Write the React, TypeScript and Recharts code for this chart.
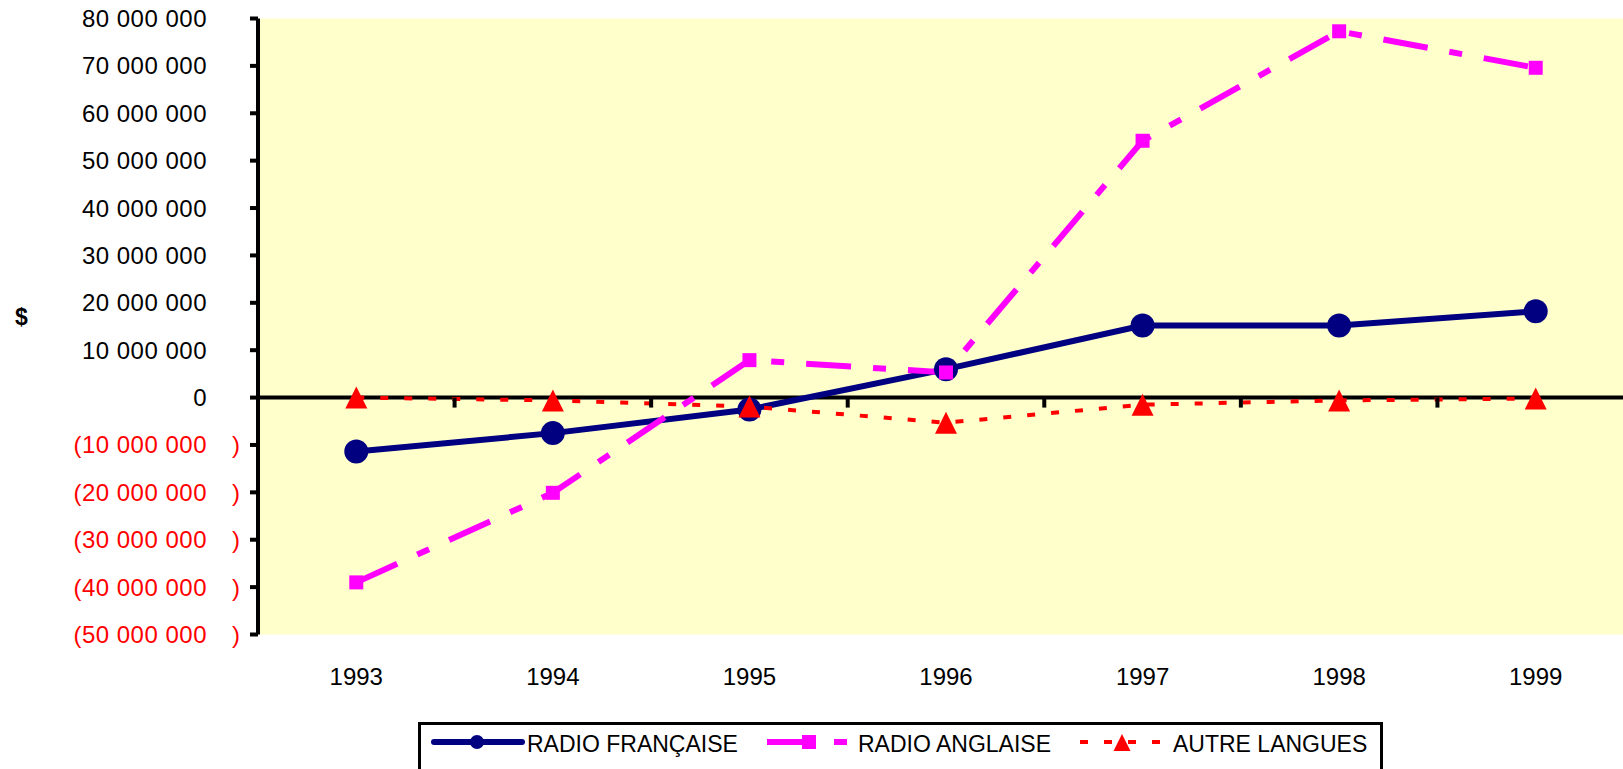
import React from 'react';
import {
  ComposedChart,
  Line,
  Scatter,
  XAxis,
  YAxis,
  CartesianGrid,
  ReferenceLine,
  Legend,
} from 'recharts';

const years = [1993, 1994, 1995, 1996, 1997, 1998, 1999];
const radioFrancaise = [-11.4e6, -7.5e6, -2.5e6, 6.0e6, 15.2e6, 15.2e6, 18.2e6];
const radioAnglaise = [-39.0e6, -20.1e6, 7.9e6, 5.3e6, 54.2e6, 77.3e6, 69.6e6];
const autreLangues = [0, -0.6e6, -1.9e6, -5.3e6, -1.5e6, -0.6e6, -0.2e6];
const yTicks = [-50e6, -40e6, -30e6, -20e6, -10e6, 0, 10e6, 20e6, 30e6, 40e6, 50e6, 60e6, 70e6, 80e6];
const seriesNames = ['RADIO FRANÇAISE', 'RADIO ANGLAISE', 'AUTRE LANGUES'];
const yLabel = '$';

const NAVY = '#000080';
const MAGENTA = '#FF00FF';
const RED = '#FF0000';
const FONT = '"Liberation Sans", Arial, sans-serif';

const data = years.map((y, i) => ({
  year: y,
  fr: radioFrancaise[i],
  an: radioAnglaise[i],
  au: autreLangues[i],
}));

const boundaryData = years.slice(1).map((y) => ({ year: y - 0.5, zero: 0 }));

const fmt = (n: number) =>
  Math.abs(n)
    .toString()
    .replace(/\B(?=(\d{3})+(?!\d))/g, ' ');

const YTick = (props: any) => {
  const { x, y, payload } = props;
  const v = payload.value as number;
  const common = {
    dominantBaseline: 'central' as const,
    fontSize: 24,
    fontFamily: FONT,
    letterSpacing: 0.5,
  };
  if (v < 0) {
    return (
      <g>
        <text x={x - 43} y={y} textAnchor="end" fill={RED} {...common}>
          {'(' + fmt(v)}
        </text>
        <text x={x - 18} y={y} textAnchor="start" fill={RED} {...common}>
          )
        </text>
      </g>
    );
  }
  return (
    <text x={x - 43} y={y} textAnchor="end" fill="#000" {...common}>
      {fmt(v)}
    </text>
  );
};

const XTick = (props: any) => {
  const { x, y, payload } = props;
  return (
    <text x={x} y={y + 41.5} textAnchor="middle" dominantBaseline="central" fill="#000" fontSize={24} fontFamily={FONT}>
      {payload.value}
    </text>
  );
};

const CircleDot = (p: any) => (
  <circle key={`fr-${p.index}`} cx={p.cx} cy={p.cy} r={12} fill={NAVY} stroke="none" />
);
const SquareDot = (p: any) => (
  <rect key={`an-${p.index}`} x={p.cx - 7} y={p.cy - 7} width={14} height={14} fill={MAGENTA} stroke="none" />
);
const TriDot = (p: any) => (
  <polygon
    key={`au-${p.index}`}
    points={`${p.cx},${p.cy - 11} ${p.cx - 11},${p.cy + 11} ${p.cx + 11},${p.cy + 11}`}
    fill={RED}
    stroke="none"
  />
);

const BoundaryTick = (p: any) => (
  <line x1={p.cx} y1={p.cy} x2={p.cx} y2={p.cy + 10} stroke="#000" strokeWidth={4} />
);

const renderLegend = () => (
  <div
    style={{
      width: 965,
      height: 70,
      border: '3px solid #000',
      boxSizing: 'border-box',
      background: '#fff',
    }}
  >
    <svg width={959} height={64} style={{ display: 'block' }}>
      <line x1={13} y1={17} x2={101} y2={17} stroke={NAVY} strokeWidth={6} strokeLinecap="round" />
      <circle cx={56} cy={17} r={7} fill={NAVY} />
      <text x={106} y={19} dominantBaseline="central" fontSize={23} fontFamily={FONT} fill="#000">
        {seriesNames[0]}
      </text>
      <line x1={346} y1={17} x2={428} y2={17} stroke={MAGENTA} strokeWidth={6} strokeDasharray="45 22 13 22" />
      <rect x={381} y={10} width={14} height={14} fill={MAGENTA} />
      <text x={437} y={19} dominantBaseline="central" fontSize={23} fontFamily={FONT} fill="#000">
        {seriesNames[1]}
      </text>
      <line x1={659} y1={17} x2={741} y2={17} stroke={RED} strokeWidth={4} strokeDasharray="8 16" />
      <polygon points="701,9 692.5,26 709.5,26" fill={RED} />
      <text x={752} y={19} dominantBaseline="central" fontSize={23} fontFamily={FONT} fill="#000">
        {seriesNames[2]}
      </text>
    </svg>
  </div>
);

export default function App() {
  return (
    <div
      style={{
        position: 'absolute',
        left: 0,
        top: 0,
        width: 1623,
        height: 769,
        overflow: 'hidden',
        background: '#fff',
      }}
    >
      <ComposedChart
        width={1640}
        height={769}
        data={data}
        margin={{ top: 18.5, right: 6, left: 0, bottom: 74.5 }}
        style={{ fontFamily: FONT }}
      >
        <CartesianGrid fill="#FFFFCC" horizontal={false} vertical={false} stroke="none" />
        <XAxis
          dataKey="year"
          type="number"
          domain={[1992.5, 1999.5]}
          ticks={years}
          allowDataOverflow
          axisLine={false}
          tickLine={false}
          tickSize={0}
          tickMargin={0}
          height={60}
          tick={<XTick />}
          interval={0}
        />
        <YAxis
          type="number"
          domain={[-50e6, 80e6]}
          ticks={yTicks}
          allowDataOverflow
          width={258}
          interval={0}
          tickSize={8}
          tickMargin={0}
          axisLine={{ stroke: '#000', strokeWidth: 4 }}
          tickLine={{ stroke: '#000', strokeWidth: 4 }}
          tick={<YTick />}
          label={{
            value: yLabel,
            position: 'insideLeft',
            offset: 15,
            dy: -10,
            style: { fontWeight: 'bold', fontSize: 23, fill: '#000', fontFamily: FONT },
          }}
        />
        <ReferenceLine y={0} stroke="#000" strokeWidth={4} />
        <Scatter
          data={boundaryData}
          dataKey="zero"
          shape={<BoundaryTick />}
          isAnimationActive={false}
          legendType="none"
        />
        <Line
          dataKey="fr"
          name={seriesNames[0]}
          stroke={NAVY}
          strokeWidth={6}
          dot={CircleDot}
          activeDot={false}
          isAnimationActive={false}
        />
        <Line
          dataKey="an"
          name={seriesNames[1]}
          stroke={MAGENTA}
          strokeWidth={6}
          strokeDasharray="45 22 13 22"
          dot={SquareDot}
          activeDot={false}
          isAnimationActive={false}
        />
        <Line
          dataKey="au"
          name={seriesNames[2]}
          stroke={RED}
          strokeWidth={4}
          strokeDasharray="8 16"
          dot={TriDot}
          activeDot={false}
          isAnimationActive={false}
        />
        <Legend
          layout="vertical"
          align="center"
          verticalAlign="middle"
          content={renderLegend}
          wrapperStyle={{
            position: 'absolute',
            left: 418,
            top: 722,
            width: 965,
            height: 70,
            margin: 0,
            padding: 0,
          }}
        />
      </ComposedChart>
    </div>
  );
}
